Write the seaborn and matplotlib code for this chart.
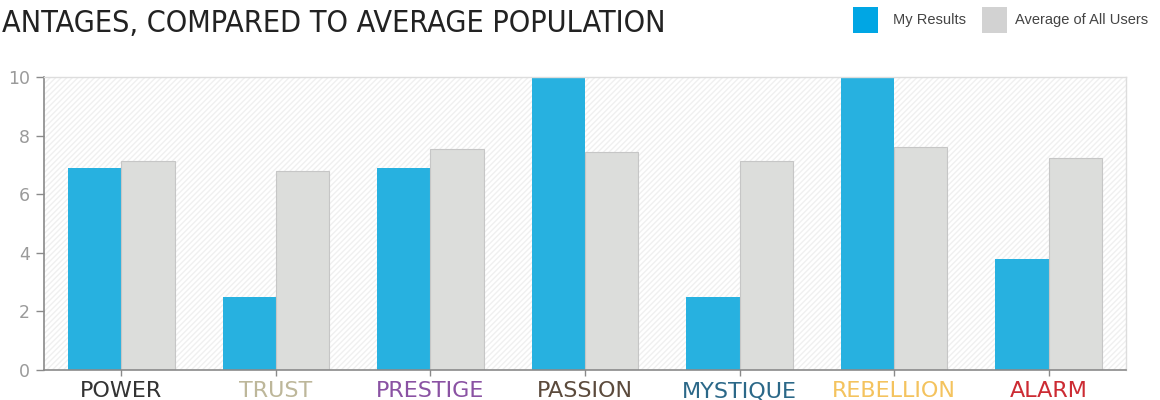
import matplotlib
matplotlib.use("Agg")
import matplotlib.pyplot as plt
from matplotlib.patches import Rectangle
import seaborn as sns
import pandas as pd

categories = ["POWER", "TRUST", "PRESTIGE", "PASSION", "MYSTIQUE", "REBELLION", "ALARM"]
my_results = [6.9, 2.5, 6.9, 10.0, 2.5, 10.0, 3.8]
avg_all_users = [7.15, 6.8, 7.55, 7.45, 7.15, 7.6, 7.25]
label_colors = ["#333333", "#bdb79a", "#8a52a3", "#5b4a3c", "#2b6888", "#f4c35e", "#cc2b33"]
series_names = ["My Results", "Average of All Users"]
yticks = [0, 2, 4, 6, 8, 10]
title = "ANTAGES, COMPARED TO AVERAGE POPULATION"

df = pd.DataFrame({
    "category": categories * 2,
    "score": my_results + avg_all_users,
    "series": [series_names[0]] * len(categories) + [series_names[1]] * len(categories),
})

sns.set_style("white")
plt.rcParams["font.family"] = ["DejaVu Sans"]
plt.rcParams["hatch.linewidth"] = 1.0

W, H = 1160, 400
fig = plt.figure(figsize=(W / 100, H / 100), dpi=100)
ax = fig.add_axes([44 / W, 1 - 370 / H, (1126 - 44) / W, (370 - 77) / H])

# hatched background
bg = Rectangle((0, 0), 1, 1, transform=ax.transAxes, facecolor="white",
               edgecolor="#f0f0f0", hatch="//////", linewidth=0, zorder=0)
ax.add_patch(bg)

bar_colors = ["#27b1e0", "#dcdddb"]
sns.barplot(data=df, x="category", y="score", hue="series", order=categories,
            hue_order=series_names, palette=bar_colors, width=0.69, gap=0,
            legend=False, ax=ax, saturation=1, zorder=2)

for p in ax.patches:
    if p is bg:
        continue
    fc = p.get_facecolor()
    if fc[0] > 0.5:
        p.set_edgecolor("#c6c6c6")
        p.set_linewidth(0.8)
    else:
        p.set_linewidth(0)

ax.set_xlim(-0.5, 6.5)
ax.set_ylim(0, 10)
ax.set_yticks(yticks)
ax.set_xlabel("")
ax.set_ylabel("")

for s in ["top", "right"]:
    ax.spines[s].set_visible(True)
    ax.spines[s].set_color("#dddddd")
    ax.spines[s].set_linewidth(1.0)
for s in ["left", "bottom"]:
    ax.spines[s].set_color("#8a8a8a")
    ax.spines[s].set_linewidth(1.2)

ax.tick_params(axis="y", length=6, width=1, color="#8a8a8a", pad=4,
               labelsize=12.5, labelcolor="#9a9a9a", left=True)
ax.tick_params(axis="x", length=8, width=1, color="#8a8a8a", pad=4,
               labelsize=16, bottom=True, direction="inout")
for lbl, c in zip(ax.get_xticklabels(), label_colors):
    lbl.set_color(c)

# title, sized to span the same width as in the reference
t = fig.text(2 / W, 1 - 23 / H, title, ha="left", va="center", fontsize=28,
             color="#222222", family=["DejaVu Sans"], fontstretch="condensed")
fig.canvas.draw()
w = t.get_window_extent().width
t.set_fontsize(28 * (664 / w))

# legend
leg_colors = ["#00a6e4", "#d2d2d2"]
leg_x = [853, 982]
txt_x = [893, 1015]
for lx, tx, c, name in zip(leg_x, txt_x, leg_colors, series_names):
    fig.patches.append(Rectangle((lx / W, 1 - 33 / H), 25 / W, 26 / H,
                                 transform=fig.transFigure, facecolor=c,
                                 edgecolor="none"))
    fig.text(tx / W, 1 - 20 / H, name, ha="left", va="center",
             fontsize=10.5, color="#444444",
             family=["Liberation Sans", "DejaVu Sans"])

fig.savefig("out.png", dpi=100)
